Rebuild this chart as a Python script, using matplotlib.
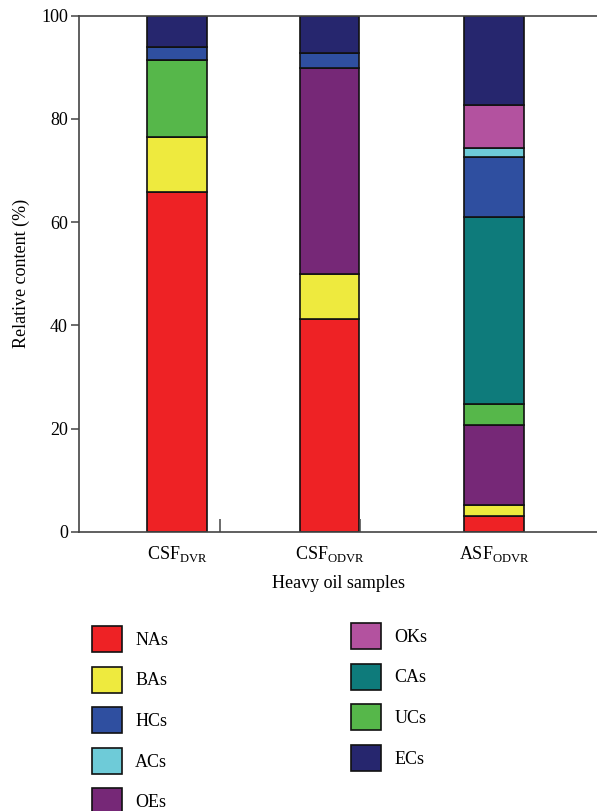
import numpy as np
import matplotlib.pyplot as plt

samples = ['CSF$_{\\mathrm{DVR}}$', 'CSF$_{\\mathrm{ODVR}}$', 'ASF$_{\\mathrm{ODVR}}$']
# stacking order, bottom to top
groups = ['NAs', 'BAs', 'OEs', 'UCs', 'CAs', 'HCs', 'ACs', 'OKs', 'ECs']
values = {
    'NAs': [65.8, 41.2, 3.0],
    'BAs': [10.6, 8.8, 2.2],
    'OEs': [0.0, 39.8, 15.5],
    'UCs': [15.1, 0.0, 4.1],
    'CAs': [0.0, 0.0, 36.1],
    'HCs': [2.5, 3.0, 11.7],
    'ACs': [0.0, 0.0, 1.8],
    'OKs': [0.0, 0.0, 8.2],
    'ECs': [6.0, 7.2, 17.4],
}
colors = {
    'NAs': '#ee2225', 'BAs': '#eeea3e', 'OEs': '#762877', 'UCs': '#56b74a',
    'CAs': '#0e7b7b', 'HCs': '#2f4fa0', 'ACs': '#6ecbd8', 'OKs': '#b3529f',
    'ECs': '#26266e',
}
legend_col1 = ['NAs', 'BAs', 'HCs', 'ACs', 'OEs']
legend_col2 = ['OKs', 'CAs', 'UCs', 'ECs']

plt.rcParams['font.family'] = ['Liberation Serif', 'DejaVu Serif']
plt.rcParams['mathtext.fontset'] = 'custom'
plt.rcParams['mathtext.rm'] = 'Liberation Serif'

W, H = 597, 811
fig = plt.figure(figsize=(W / 100, H / 100), dpi=100)
ax = fig.add_axes([79 / W, 1 - 531.7 / H, 1 - 79 / W, 516 / H])

xpos = np.array([0, 1, 2.08])
bottom = np.zeros(3)
handles = {}
for g in groups:
    v = np.array(values[g])
    b = ax.bar(xpos, v, 0.39, bottom=bottom, color=colors[g],
               edgecolor='#111111', linewidth=1.2, label=g)
    handles[g] = b
    bottom += v

ax.set_xlim(-0.643, 2.754)
ax.set_ylim(0, 100)
ax.set_yticks(np.arange(0, 101, 20))
ax.set_xticks(xpos)
ax.set_xticklabels(samples)
ax.set_xticks([0.282, 1.2], minor=True)
ax.tick_params(axis='x', which='major', length=0, labelsize=13, pad=9)
ax.tick_params(axis='x', which='minor', direction='in', length=9.5, width=1.1, color='#444444')
ax.tick_params(axis='y', length=6, width=1.1, color='#444444', labelsize=13, pad=2)
for s in ['left', 'bottom', 'top']:
    ax.spines[s].set_color('#444444')
    ax.spines[s].set_linewidth(1.2)
ax.spines['right'].set_visible(False)

ax.set_ylabel('Relative content (%)', fontsize=13, labelpad=8)
ax.set_xlabel('Heavy oil samples', fontsize=13, labelpad=7.5)

kw = dict(frameon=False, fontsize=13, handlelength=1.67, handleheight=1.85,
          handletextpad=0.72, labelspacing=0.80, borderpad=0, borderaxespad=0,
          loc='upper left')
leg1 = fig.legend([handles[g] for g in legend_col1], legend_col1,
                  bbox_to_anchor=(92 / W, 1 - 626 / H), **kw)
leg2 = fig.legend([handles[g] for g in legend_col2], legend_col2,
                  bbox_to_anchor=(351 / W, 1 - 623 / H), **kw)

fig.savefig('out.png', dpi=100)
